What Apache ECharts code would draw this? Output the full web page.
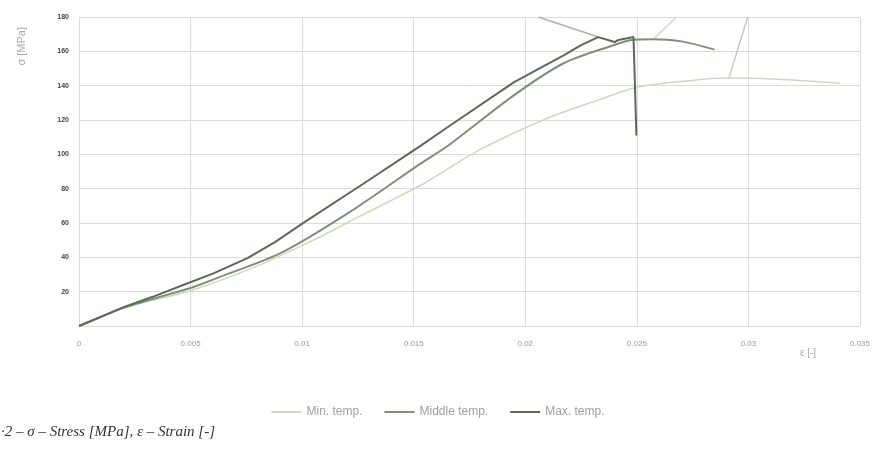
<!DOCTYPE html>
<html>
<head>
<meta charset="utf-8">
<script src="https://cdn.jsdelivr.net/npm/echarts@6/dist/echarts.min.js"></script>
<style>html,body{margin:0;padding:0;background:#fff}#c{width:876px;height:455px}</style>
</head>
<body>
<div id="c"></div>
<script>
// strain [-], stress [MPa]
const minTemp = [[0,0],[0.002,10.5],[0.0051,21],[0.008,35],[0.0105,50],[0.0126,64],[0.01545,83],[0.01801,103],[0.02102,121.2],[0.02327,131.6],[0.02507,139.2],[0.02745,143],[0.02911,144.4],[0.0315,143.6],[0.0341,141.4]];
const middleTemp = [[0,0],[0.001,5.4],[0.002,10.6],[0.0035,16.5],[0.0051,22.6],[0.0065,29.5],[0.00903,42.4],[0.01204,65.6],[0.01532,94.7],[0.01653,105],[0.0195,134.5],[0.02174,153.2],[0.02399,163.7],[0.02475,166.6],[0.02566,167],[0.027,165.8],[0.02848,161]];
const maxTemp = [[0,0],[0.001,5.5],[0.002,11],[0.0033,17],[0.0047,24],[0.006,30.5],[0.00755,39.5],[0.0088,49],[0.01002,59.8],[0.01276,83],[0.01532,105.1],[0.01653,115.9],[0.0195,142.1],[0.02174,157.8],[0.0225,163.6],[0.02327,168.3],[0.0240,165.4],[0.02417,166.6],[0.02485,168.3],[0.02498,111]];
const strayMax = [[0.02058,180],[0.02327,168.3]];
const strayMid = [[0.02579,167.7],[0.02678,180]];
const strayMin = [[0.02911,143.8],[0.02997,180]];
const seriesNames = ['Min. temp.','Middle temp.','Max. temp.'];
const xTicks = {min:0, max:0.035, interval:0.005};
const yTicks = {min:0, max:180, interval:20};

const chart = echarts.init(document.getElementById('c'), null, {renderer:'canvas'});
chart.setOption({
  animation:false,
  backgroundColor:'#fff',
  grid:{left:79, right:16, top:17, bottom:129, containLabel:false},
  xAxis:{type:'value', min:xTicks.min, max:xTicks.max, interval:xTicks.interval,
    axisLine:{show:false}, axisTick:{show:false},
    splitLine:{show:true, lineStyle:{color:'#dcdcdc', width:1}},
    axisLabel:{color:'#9a9a9a', fontSize:8, fontFamily:'Liberation Sans', margin:14,
      formatter:v=>String(+v.toFixed(3))}},
  yAxis:{type:'value', min:yTicks.min, max:yTicks.max, interval:yTicks.interval,
    axisLine:{show:false}, axisTick:{show:false},
    splitLine:{show:true, lineStyle:{color:'#dcdcdc', width:1}},
    axisLabel:{color:'#444', fontSize:7, fontWeight:'bold', fontFamily:'Liberation Sans', margin:10, showMinLabel:false}},
  legend:{data:seriesNames, left:'center', top:401, icon:'rect', itemWidth:30, itemHeight:2, itemGap:22,
    textStyle:{color:'#a0a0a0', fontSize:12, fontFamily:'Liberation Sans'}},
  series:[
    {name:seriesNames[0], type:'line', data:minTemp, symbol:'none', smooth:0.3, lineStyle:{color:'#cdd8c4', width:1.5}, itemStyle:{color:'#cdd8c4'}},
    {name:seriesNames[1], type:'line', data:middleTemp, symbol:'none', smooth:0.3, lineStyle:{color:'#7f9079', width:2}, itemStyle:{color:'#7f9079'}},
    {name:seriesNames[2], type:'line', data:maxTemp, symbol:'none', smooth:false, lineStyle:{color:'#5a6b55', width:2}, itemStyle:{color:'#5a6b55'}},
    {name:'s1', type:'line', data:strayMax, symbol:'none', lineStyle:{color:'#b0b0b0', width:1.5}, z:1},
    {name:'s2', type:'line', data:strayMid, symbol:'none', lineStyle:{color:'#d3d6cc', width:1.5}, z:1},
    {name:'s3', type:'line', data:strayMin, symbol:'none', lineStyle:{color:'#c8c8c8', width:1.5}, z:1}
  ],
  graphic:[
    {type:'text', left:16, top:27, rotation:Math.PI/2, style:{text:'σ [MPa]', fill:'#aaa', fontSize:11, fontFamily:'Liberation Sans'}},
    {type:'text', left:800, top:348, style:{text:'ε [-]', fill:'#aaa', fontSize:10, fontFamily:'Liberation Sans'}},
    {type:'text', left:1, top:425, style:{text:'·2 – σ – Stress [MPa], ε – Strain [-]', fill:'#333', fontSize:15, fontStyle:'italic', fontFamily:'Liberation Serif'}}
  ]
});
</script>
</body>
</html>
